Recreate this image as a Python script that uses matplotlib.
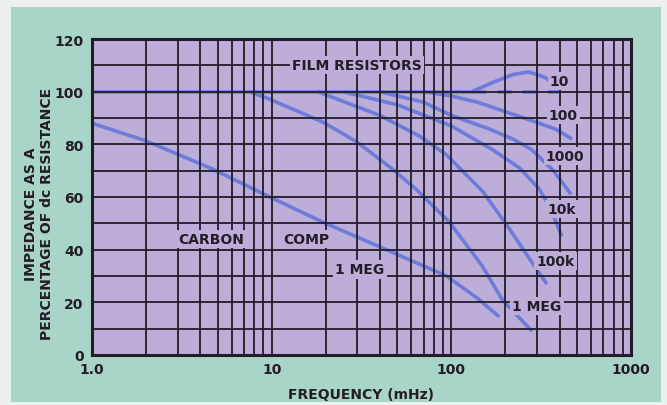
import matplotlib
matplotlib.use('Agg')
from matplotlib import pyplot as plt
from matplotlib.patches import Rectangle

# --- data (frequency in mHz, impedance in % of dc) ---
base_f = [1.0, 130]
base_v = [100, 100]

r10_f = [130, 170, 220, 270, 330, 410]
r10_v = [100, 103.5, 106.5, 107.5, 105.5, 101]

r10_ideal_f = [130, 410]
r10_ideal_v = [100, 100]

r100_f = [70, 98, 140, 192, 280, 380, 470]
r100_v = [100, 98.5, 96, 92.8, 89, 85.8, 82]

r1000_f = [40, 70, 100, 160, 220, 280, 370, 464]
r1000_v = [100, 96, 91, 86, 82, 78, 70, 61]

r10k_f = [25, 50, 100, 169, 240, 309, 360, 412]
r10k_v = [100, 95, 87, 78, 71, 63, 55, 45]

r100k_f = [18, 40, 67, 94, 150, 210, 282, 340]
r100k_v = [100, 91, 83, 76, 62, 48, 35, 27]

r1meg_f = [7.5, 9.7, 19.2, 29.7, 47, 63.5, 97.5, 148, 192, 240, 282]
r1meg_v = [100, 97.2, 88.5, 81, 70.6, 63, 50.5, 34, 21, 14, 9]

carbon_f = [1.0, 2.0, 4.7, 9.1, 19.2, 47, 94, 140, 185]
carbon_v = [88, 81.3, 70.6, 61, 50.5, 39, 30, 21.5, 14.5]

yticks = [0, 20, 40, 60, 80, 100, 120]
xticks = [1, 10, 100, 1000]
xticklabels = ['1.0', '10', '100', '1000']

# right-hand curve labels: (text, freq, value)
end_labels = [('10', 400, 104), ('100', 420, 91), ('1000', 430, 75.6),
              ('10k', 410, 55.5), ('100k', 380, 35.7), ('1 MEG', 300, 18.6)]

teal = '#a9d4c8'
lavender = '#bcaed8'
ink = '#241c28'
blue = '#5f73dc'

plt.rcParams['font.weight'] = 'bold'
plt.rcParams['axes.labelweight'] = 'bold'

fig = plt.figure(figsize=(6.67, 4.06), dpi=100, facecolor='#eef0ee')
fig.patches.append(Rectangle((11 / 667, 3 / 406), 650 / 667, 395 / 406,
                             transform=fig.transFigure, facecolor=teal,
                             edgecolor='none', zorder=-5))
ax = fig.add_axes([92 / 667, 50 / 406, 539 / 667, 316 / 406])
ax.set_zorder(2)
ax.set_facecolor(lavender)
ax.set_xscale('log')
ax.set_xlim(1, 1000)
ax.set_ylim(0, 120)

lw = 2.6
for f, v in [(base_f, base_v), (r10_f, r10_v), (r100_f, r100_v),
             (r1000_f, r1000_v), (r10k_f, r10k_v), (r100k_f, r100k_v),
             (r1meg_f, r1meg_v), (carbon_f, carbon_v)]:
    ax.plot(f, v, color=blue, lw=lw, alpha=0.85, solid_capstyle='butt', zorder=2)
ax.plot(r10_ideal_f, r10_ideal_v, color=blue, lw=lw, alpha=0.85,
        dashes=(4, 3), zorder=2)

# grid
ax.set_yticks(yticks)
ax.set_yticks(range(10, 120, 20), minor=True)
ax.set_xticks(xticks)
ax.set_xticklabels(xticklabels)
ax.set_axisbelow(False)
ax.grid(which='both', color=ink, lw=1.3, zorder=2.5)
ax.tick_params(which='both', length=0, labelsize=10, colors=ink, pad=6)
ax.tick_params(axis='x', pad=5)
for s in ax.spines.values():
    s.set_color(ink)
    s.set_linewidth(2.2)

ax.set_xlabel('FREQUENCY (mHz)', fontsize=10, fontweight='bold', color=ink,
              labelpad=8)
fig.text(31 / 667, 0.473, 'IMPEDANCE AS A', rotation=90, ha='center',
         va='center', fontsize=10, color=ink)
fig.text(47 / 667, 0.473, 'PERCENTAGE OF dc RESISTANCE', rotation=90,
         ha='center', va='center', fontsize=10, color=ink)

box = dict(facecolor=lavender, edgecolor='none', pad=1.5)
ax.text(29.7, 110, 'FILM RESISTORS', ha='center', va='center', fontsize=10,
        color=ink, bbox=box, zorder=4)
ax.text(4.6, 44, 'CARBON', ha='center', va='center', fontsize=10,
        color=ink, bbox=box, zorder=4)
ax.text(15.5, 44, 'COMP', ha='center', va='center', fontsize=10,
        color=ink, bbox=box, zorder=4)
ax.text(31, 32.5, '1 MEG', ha='center', va='center', fontsize=10,
        color=ink, bbox=box, zorder=4)
for txt, f, v in end_labels:
    ax.text(f, v, txt, ha='center', va='center', fontsize=10, color=ink,
            bbox=box, zorder=4)

fig.savefig('out.png', dpi=100, facecolor=fig.get_facecolor())
